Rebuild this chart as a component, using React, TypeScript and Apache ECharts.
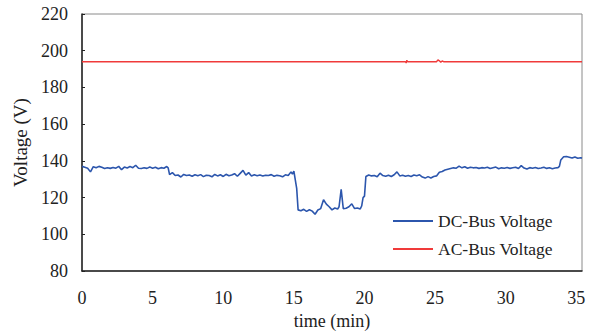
import React, { useEffect, useRef } from "react";
import * as echarts from "echarts";

// DC-bus voltage samples: time (min) and voltage (V)
const dcTime = [
  0.0, 0.2, 0.4, 0.6, 0.8, 1.0, 1.2, 1.4, 1.6, 1.8, 2.0, 2.2, 2.4, 2.6, 2.8, 3.0, 3.2, 3.4, 3.6, 3.8,
  4.0, 4.2, 4.4, 4.6, 4.8, 5.0, 5.2, 5.4, 5.6, 5.8, 6.0, 6.1, 6.2, 6.4, 6.6, 6.8, 7.0, 7.2, 7.4, 7.6,
  7.8, 8.0, 8.2, 8.4, 8.6, 8.8, 9.0, 9.2, 9.4, 9.6, 9.8, 10.0, 10.2, 10.4, 10.6, 10.8, 11.0, 11.2, 11.4, 11.6,
  11.8, 12.0, 12.2, 12.4, 12.6, 12.8, 13.0, 13.2, 13.4, 13.6, 13.8, 14.0, 14.2, 14.4, 14.6, 14.8, 14.9, 15.0, 15.2, 15.3,
  15.5, 15.7, 15.9, 16.1, 16.3, 16.5, 16.7, 16.9, 17.1, 17.3, 17.5, 17.7, 17.9, 18.1, 18.2, 18.35, 18.5, 18.7, 18.9, 19.1,
  19.3, 19.5, 19.7, 19.8, 19.9, 20.0, 20.1, 20.3, 20.5, 20.7, 20.9, 21.1, 21.3, 21.5, 21.7, 21.9, 22.1, 22.3, 22.5, 22.7,
  22.9, 23.1, 23.3, 23.5, 23.7, 23.9, 24.1, 24.3, 24.5, 24.7, 24.9, 25.1, 25.3, 25.5, 25.7, 25.9, 26.1, 26.3, 26.5, 26.7,
  26.9, 27.1, 27.3, 27.5, 27.7, 27.9, 28.1, 28.3, 28.5, 28.7, 28.9, 29.1, 29.3, 29.5, 29.7, 29.9, 30.1, 30.3, 30.5, 30.7,
  30.9, 31.1, 31.3, 31.5, 31.7, 31.9, 32.1, 32.3, 32.5, 32.7, 32.9, 33.1, 33.3, 33.5, 33.7, 33.8, 33.9, 34.1, 34.3, 34.5,
  34.7, 34.9, 35.1, 35.3, 35.4,
];
const dcVolt = [
  137.0, 136.5, 136.0, 134.0, 136.8, 136.2, 137.0, 136.5, 135.8, 136.3, 135.9, 136.4, 136.0, 137.0, 135.2, 136.6, 136.1, 136.9, 136.3, 137.6,
  136.0, 135.8, 136.2, 135.9, 136.6, 136.0, 136.5, 135.7, 136.3, 136.0, 136.9, 136.2, 132.5, 133.6, 132.0, 132.3, 131.2, 132.6, 132.0, 132.3,
  131.6, 132.4, 131.9, 132.5, 131.4, 132.2, 132.0, 131.3, 132.6, 131.8, 132.4, 131.5, 132.7, 131.9, 132.3, 133.0, 131.6, 133.2, 134.8, 132.2,
  133.6, 131.8, 132.4, 131.9, 132.3, 131.7, 132.2, 132.0, 132.5, 131.6, 132.1, 131.9, 131.3, 132.4, 132.0, 134.0, 132.8, 134.4, 125.0, 113.3,
  112.8, 113.6, 112.5, 113.4, 112.6, 110.9, 113.2, 114.0, 118.8, 116.4, 115.0, 113.3, 114.3, 113.8, 115.0, 124.5, 113.9, 114.2, 115.0, 116.6,
  114.0, 114.3, 113.8, 115.4, 120.0, 120.8, 131.5, 132.3, 131.8, 132.0, 131.4, 133.3, 132.0, 131.6, 132.2, 131.5, 132.4, 134.0, 131.8, 132.2,
  131.6, 132.0, 131.5, 132.3, 131.9, 132.4, 131.2, 130.6, 131.4, 130.7, 131.5, 131.8, 133.8, 134.2, 135.0, 135.4, 135.8, 136.2, 136.0, 137.1,
  136.2, 136.8, 136.0, 136.5, 136.2, 136.4, 135.9, 136.3, 136.1, 136.5, 135.8, 136.2, 136.6, 135.7, 136.2, 136.0, 136.4, 135.9, 136.2, 136.5,
  135.8, 137.4, 136.1, 135.6, 136.3, 136.0, 136.4, 135.8, 136.1, 136.5, 135.9, 136.2, 135.7, 136.1, 136.3, 137.0, 140.5, 142.2, 142.4, 142.0,
  141.5, 142.1, 141.4, 141.7, 141.5,
];

// AC-bus voltage samples
const acTime = [0.0, 22.9, 22.95, 23.0, 23.05, 25.1, 25.2, 25.3, 25.4, 25.5, 25.6, 35.4];
const acVolt = [194.0, 194.0, 193.3, 194.8, 194.0, 194.0, 195.0, 194.5, 193.7, 194.4, 194.0, 194.0];

const seriesNames = ["DC-Bus Voltage", "AC-Bus Voltage"];
const xAxisName = "time (min)";
const yAxisName = "Voltage (V)";

const FONT = "Liberation Serif";

export default function App() {
  const ref = useRef<HTMLDivElement>(null);
  useEffect(() => {
    if (!ref.current) return;
    const chart = echarts.init(ref.current, null, { renderer: "svg" });
    const dcData = dcTime.map((t, i) => [t, dcVolt[i]]);
    const acData = acTime.map((t, i) => [t, acVolt[i]]);
    chart.setOption({
      animation: false,
      backgroundColor: "#ffffff",
      textStyle: { fontFamily: FONT },
      grid: {
        left: 82,
        right: 11,
        top: 14,
        bottom: 60,
        show: true,
        borderColor: "#8a8a8a",
        borderWidth: 1,
        outerBoundsMode: "none",
        containLabel: false,
      },
      legend: {
        orient: "vertical",
        left: 388,
        top: 207,
        itemWidth: 40,
        itemHeight: 2,
        itemGap: 10,
        icon: "rect",
        textStyle: { fontFamily: FONT, fontSize: 17.5, color: "#222" },
        data: seriesNames,
      },
      xAxis: {
        type: "value",
        min: 0,
        max: 35.4,
        interval: 5,
        name: xAxisName,
        nameLocation: "middle",
        nameGap: 35,
        nameTextStyle: { fontFamily: FONT, fontSize: 18, color: "#222" },
        splitLine: { show: false },
        axisTick: { show: false },
        axisLine: { show: true, onZero: false, lineStyle: { color: "#222", width: 1.5 } },
        axisLabel: {
          margin: 18,
          fontFamily: FONT,
          fontSize: 18,
          color: "#222",
          formatter: (v: number) => (Math.abs(v % 5) < 1e-9 ? String(v) : ""),
        },
      },
      yAxis: {
        type: "value",
        min: 80,
        max: 220,
        interval: 20,
        name: yAxisName,
        nameLocation: "middle",
        nameGap: 47,
        nameRotate: 90,
        nameTextStyle: { fontFamily: FONT, fontSize: 19, color: "#222" },
        splitLine: { show: false },
        axisTick: { show: true, inside: true, length: 3, lineStyle: { color: "#222" } },
        axisLine: { show: true, lineStyle: { color: "#222", width: 1.5 } },
        axisLabel: { margin: 14, fontFamily: FONT, fontSize: 18, color: "#222" },
      },
      series: [
        {
          name: seriesNames[0],
          type: "line",
          data: dcData,
          symbol: "none",
          lineStyle: { color: "#2c56ad", width: 1.6 },
          itemStyle: { color: "#2c56ad" },
        },
        {
          name: seriesNames[1],
          type: "line",
          data: acData,
          symbol: "none",
          lineStyle: { color: "#f03a3a", width: 1.4 },
          itemStyle: { color: "#f03a3a" },
        },
      ],
    });
    return () => chart.dispose();
  }, []);
  return (
    <div
      ref={ref}
      style={{ position: "fixed", left: 0, top: 0, width: 593, height: 331 }}
    />
  );
}
